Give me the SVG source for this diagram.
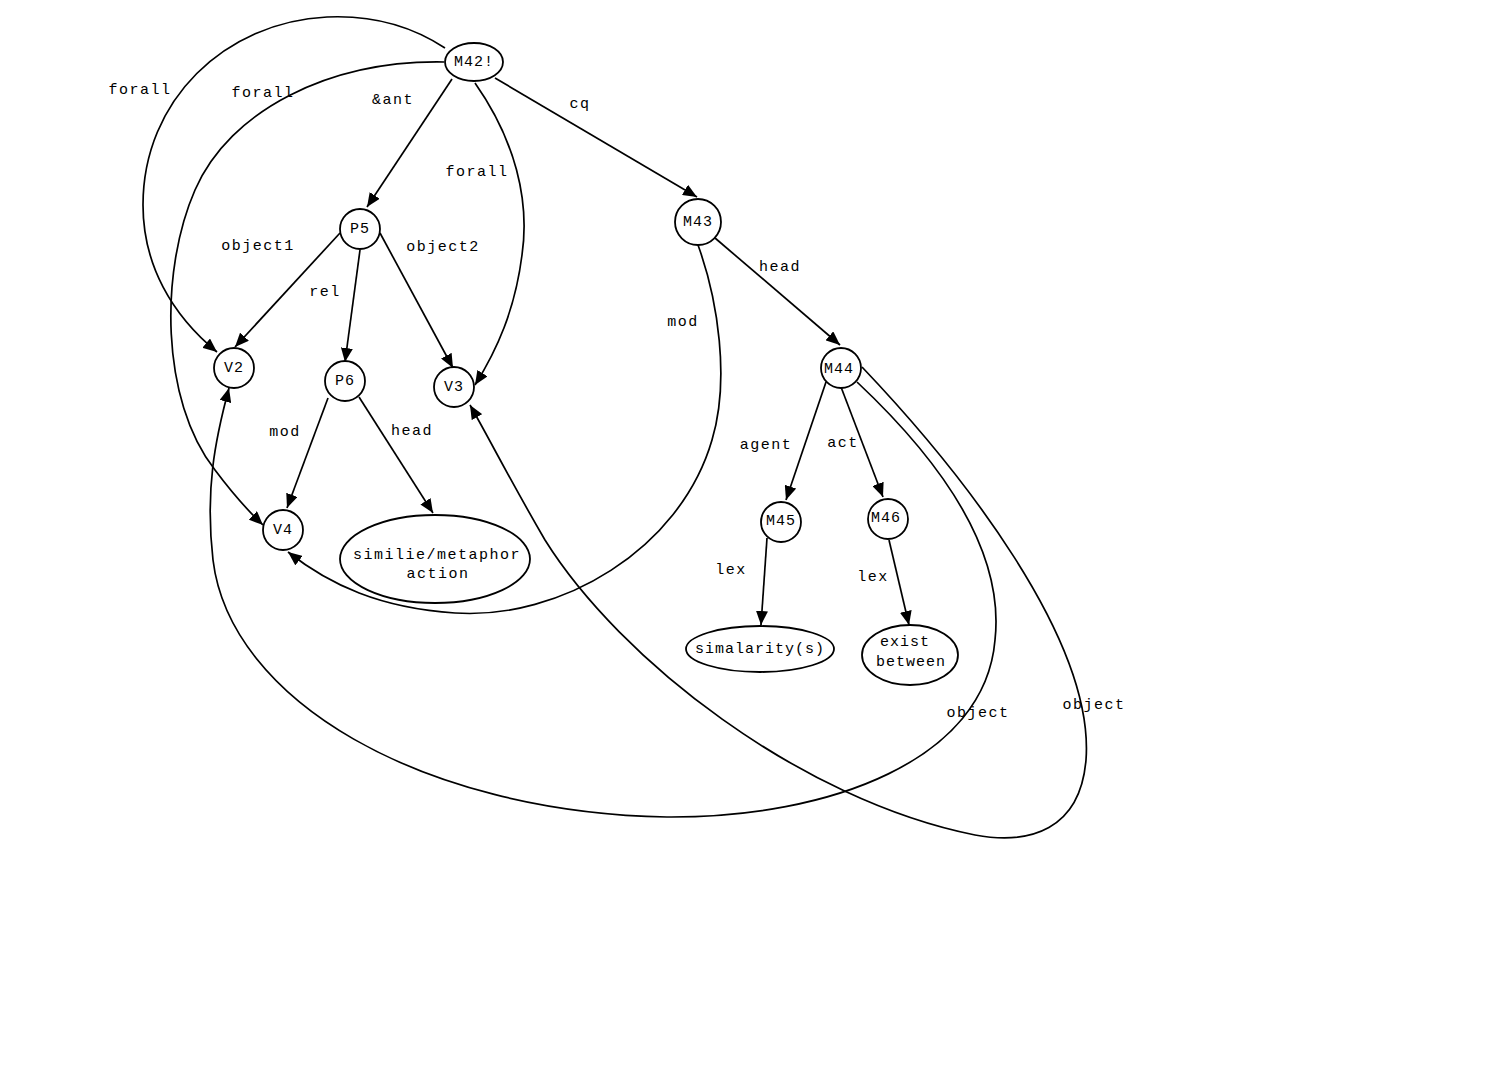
<svg xmlns="http://www.w3.org/2000/svg" width="1492" height="1080" viewBox="0 0 1492 1080">
<defs>
<style>
.n{fill:#fff;stroke:#000;stroke-width:1.8}
.e{fill:none;stroke:#000;stroke-width:1.7;marker-end:url(#ah)}
text{font-family:"Liberation Mono","DejaVu Sans Mono",monospace;font-size:15px;fill:#000;text-anchor:middle;dominant-baseline:central}
.l{letter-spacing:1.5px}
.t{letter-spacing:1px}
</style>
<marker id="ah" markerUnits="userSpaceOnUse" markerWidth="14" markerHeight="12" viewBox="0 0 14 12" refX="14" refY="6" orient="auto">
<path d="M0,0 L14,6 L0,12 z" fill="#000"/>
</marker>
</defs>
<rect width="1492" height="1080" fill="#fff"/>
<g id="connectors">
<path class="e" d="M445,48 C410,25 370,15 327,17 C225,22 143,100 143,205 C143,265 172,315 217,352"/>
<path class="e" d="M444,62 C330,60 230,110 195,190 C160,270 160,400 215,470 C230,490 245,508 263,525"/>
<path class="e" d="M452,79 L367,207"/>
<path class="e" d="M475,83 C515,140 530,200 522,255 C515,310 497,350 475,385"/>
<path class="e" d="M495,78 L697,197"/>
<path class="e" d="M340,233 L235,347"/>
<path class="e" d="M360,250 L345,362"/>
<path class="e" d="M380,233 L453,368"/>
<path class="e" d="M328,398 L287,508"/>
<path class="e" d="M359,397 L433,513"/>
<path class="e" d="M698,245 C718,300 730,380 712,440 C680,550 560,620 455,613 C380,608 330,585 288,552"/>
<path class="e" d="M715,238 L840,345"/>
<path class="e" d="M826,382 L786,500"/>
<path class="e" d="M841,387 L883,497"/>
<path class="e" d="M767,538 L761,625"/>
<path class="e" d="M889,540 L909,625"/>
<path class="e" d="M857,382 C940,460 1005,550 995,640 C985,760 830,818 667,817 C420,812 230,700 213,560 C205,490 215,440 229,388"/>
<path class="e" d="M862,367 C960,470 1095,640 1086,760 C1080,830 1030,845 975,835 C800,800 620,660 545,540 C510,480 490,440 470,405"/>
</g>
<g id="edge-labels">
<text class="l" x="140" y="90">forall</text>
<text class="l" x="263" y="93">forall</text>
<text class="l" x="393" y="100">&amp;ant</text>
<text class="l" x="477" y="172">forall</text>
<text class="l" x="580" y="104">cq</text>
<text class="l" x="258" y="246">object1</text>
<text class="l" x="443" y="247">object2</text>
<text class="l" x="325" y="292">rel</text>
<text class="l" x="285" y="432">mod</text>
<text class="l" x="412" y="431">head</text>
<text class="l" x="683" y="322">mod</text>
<text class="l" x="780" y="267">head</text>
<text class="l" x="766" y="445">agent</text>
<text class="l" x="843" y="443">act</text>
<text class="l" x="731" y="570">lex</text>
<text class="l" x="873" y="577">lex</text>
<text class="l" x="978" y="713">object</text>
<text class="l" x="1094" y="705">object</text>
</g>
<g id="M42"><ellipse class="n" cx="474" cy="62" rx="29" ry="19"/><text class="t" x="474" y="62">M42!</text></g>
<g id="P5"><circle class="n" cx="360" cy="229" r="20"/><text class="t" x="360" y="229">P5</text></g>
<g id="V2"><circle class="n" cx="234" cy="368" r="20"/><text class="t" x="234" y="368">V2</text></g>
<g id="P6"><circle class="n" cx="345" cy="381" r="20"/><text class="t" x="345" y="381">P6</text></g>
<g id="V3"><circle class="n" cx="454" cy="387" r="20"/><text class="t" x="454" y="387">V3</text></g>
<g id="V4"><circle class="n" cx="283" cy="530" r="20"/><text class="t" x="283" y="530">V4</text></g>
<g id="similie"><ellipse class="n" cx="435" cy="559" rx="95" ry="44"/><text class="l" x="437" y="555">similie/metaphor</text><text class="l" x="438" y="574">action</text></g>
<g id="M43"><circle class="n" cx="698" cy="222" r="23"/><text class="t" x="698" y="222">M43</text></g>
<g id="M44"><circle class="n" cx="841" cy="368" r="20"/><text class="t" x="839" y="369">M44</text></g>
<g id="M45"><circle class="n" cx="781" cy="522" r="20"/><text class="t" x="781" y="521">M45</text></g>
<g id="M46"><circle class="n" cx="888" cy="519" r="20"/><text class="t" x="886" y="518">M46</text></g>
<g id="simalarity"><ellipse class="n" cx="760" cy="649" rx="74" ry="23"/><text class="t" x="760" y="649">simalarity(s)</text></g>
<g id="exist"><ellipse class="n" cx="910" cy="655" rx="48" ry="30"/><text class="t" x="905" y="642">exist</text><text class="t" x="911" y="662">between</text></g>
</svg>
